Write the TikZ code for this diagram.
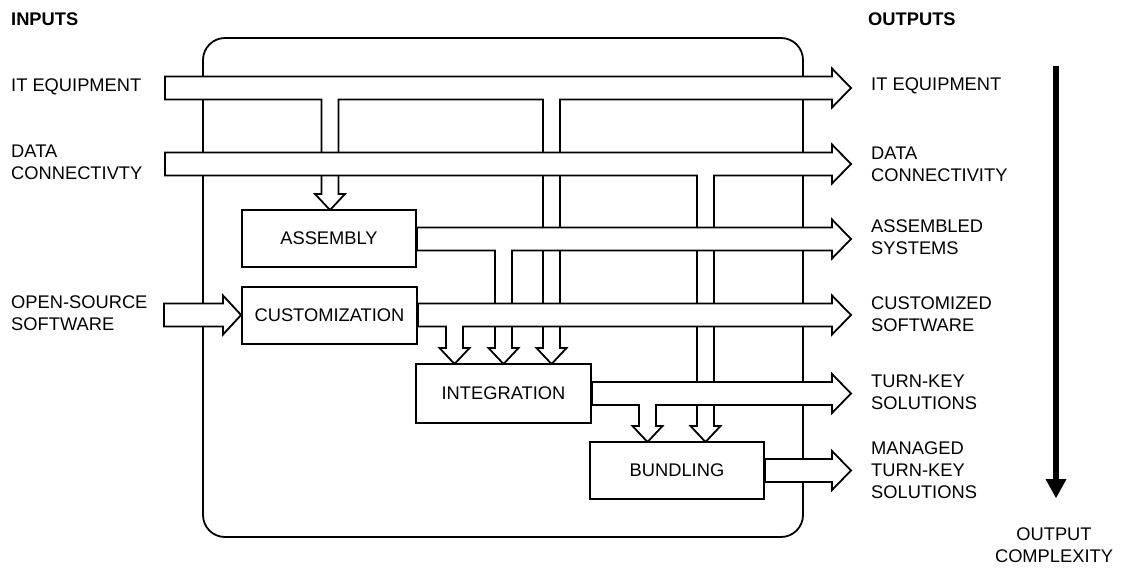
\documentclass[tikz,border=0pt]{standalone}
\usepackage{fontspec}
\setmainfont{Liberation Sans}
\usetikzlibrary{calc}
\newcommand{\labfont}{\fontsize{18.3}{22}\selectfont}
\begin{document}
\begin{tikzpicture}[x=1pt,y=-1pt,
  outl/.style={draw=black, fill=white, line width=1.8pt, line join=miter},
  procbox/.style={draw=black, fill=white, line width=1.8pt, inner sep=0pt, font=\labfont},
  lab/.style={anchor=west, align=left, inner sep=0pt, font=\labfont},
]
\useasboundingbox (0,0) rectangle (1123,568);

% container
\draw[line width=1.8pt, rounded corners=22pt] (203,38) rectangle (803,537);

% boxes (named)
\node[procbox, minimum width=174pt, minimum height=57pt] (asm) at (329,238.5) {ASSEMBLY};
\node[procbox, minimum width=175pt, minimum height=57pt] (cus) at (329.5,315.5) {CUSTOMIZATION};
\node[procbox, minimum width=175pt, minimum height=59pt] (int) at (503.5,393.5) {INTEGRATION};
\node[procbox, minimum width=174pt, minimum height=57pt] (bun) at (677,470.5) {BUNDLING};

% IT equipment band with branches to assembly and integration
\draw[outl] (165,76.5) -- (832,76.5) -- (832,68.5) -- (851,88) -- (832,107.5) -- (832,99.5)
  -- (560,99.5) -- (560,348) -- (566.5,348) -- (551.5,364) -- (536.5,348) -- (543,348) -- (543,99.5)
  -- (338.5,99.5) -- (338.5,194) -- (345,194) -- (330,210) -- (315,194) -- (321.5,194) -- (321.5,99.5)
  -- (165,99.5) -- cycle;

% data connectivity band with branch to bundling
\draw[outl] (165,152.5) -- (832,152.5) -- (832,144.5) -- (851,164) -- (832,183.5) -- (832,175.5)
  -- (714,175.5) -- (714,426) -- (720.5,426) -- (705.5,442) -- (690.5,426) -- (697,426) -- (697,175.5)
  -- (165,175.5) -- cycle;

% assembly output with branch to integration
\draw[outl] (asm.east |- 0,227.5) -- (832,227.5) -- (832,219.5) -- (851,239) -- (832,258.5) -- (832,250.5)
  -- (512,250.5) -- (512,348) -- (518.5,348) -- (503.5,364) -- (488.5,348) -- (495,348) -- (495,250.5)
  -- (asm.east |- 0,250.5) -- cycle;

% open-source input into customization
\draw[outl] (164,303.5) -- (223,303.5) -- (223,295.5) -- (cus.west |- 0,315) -- (223,334.5) -- (223,326.5) -- (164,326.5) -- cycle;

% customization output with branch to integration
\draw[outl] (cus.east |- 0,303.5) -- (832,303.5) -- (832,295.5) -- (851,315) -- (832,334.5) -- (832,326.5)
  -- (463,326.5) -- (463,348) -- (469.5,348) -- (454.5,364) -- (439.5,348) -- (446,348) -- (446,326.5)
  -- (cus.east |- 0,326.5) -- cycle;

% integration output with branch to bundling
\draw[outl] (int.east |- 0,382) -- (832,382) -- (832,374) -- (851,393.5) -- (832,413) -- (832,405)
  -- (656,405) -- (656,426) -- (662.5,426) -- (647.5,442) -- (632.5,426) -- (639,426) -- (639,405)
  -- (int.east |- 0,405) -- cycle;

% bundling output
\draw[outl] (bun.east |- 0,459) -- (832,459) -- (832,451) -- (851,470.5) -- (832,490) -- (832,482)
  -- (bun.east |- 0,482) -- cycle;

% redraw box outlines on top
\node[procbox, minimum width=174pt, minimum height=57pt] at (asm) {ASSEMBLY};
\node[procbox, minimum width=175pt, minimum height=57pt] at (cus) {CUSTOMIZATION};
\node[procbox, minimum width=175pt, minimum height=59pt] at (int) {INTEGRATION};
\node[procbox, minimum width=174pt, minimum height=57pt] at (bun) {BUNDLING};

% labels
\node[lab] (inputs) at (11,19) {\bfseries INPUTS};
\node[lab] (in1) at (11,86.5) {IT EQUIPMENT};
\node[lab] (in2) at (11,162.5) {DATA\\CONNECTIVTY};
\node[lab] (in3) at (11,313.5) {OPEN-SOURCE\\SOFTWARE};

\node[lab] (outputs) at (868,19) {\bfseries OUTPUTS};
\node[lab] (o1) at (871,86) {IT EQUIPMENT};
\node[lab] (o2) at (871,164) {DATA\\CONNECTIVITY};
\node[lab] (o3) at (871,237.5) {ASSEMBLED\\SYSTEMS};
\node[lab] (o4) at (871,314) {CUSTOMIZED\\SOFTWARE};
\node[lab] (o5) at (871,392.5) {TURN-KEY\\SOLUTIONS};
\node[lab] (o6) at (871,470) {MANAGED\\TURN-KEY\\SOLUTIONS};
\node[align=center, inner sep=0pt, font=\labfont] (cx) at (1054,545.5) {OUTPUT\\COMPLEXITY};

% output complexity arrow
\coordinate (cxtop) at (1056,66);
\coordinate (cxtip) at (1056,498);
\draw[line width=6pt] (cxtop) -- ($(cxtip)+(0,-19)$);
\fill (1045.5,479) -- (1066.5,479) -- (cxtip) -- cycle;
\end{tikzpicture}
\end{document}
